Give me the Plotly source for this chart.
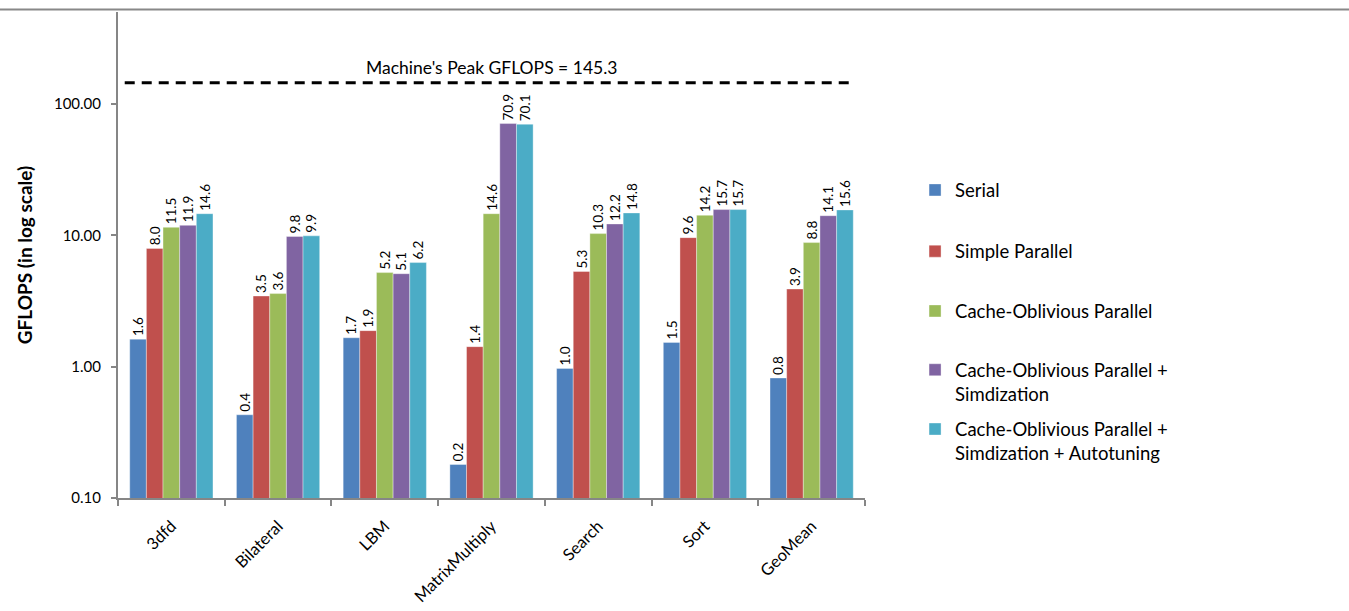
import math
import plotly.graph_objects as go

# Benchmarks and measured throughput (GFLOPS) per optimisation level
benchmarks = ["3dfd", "Bilateral", "LBM", "MatrixMultiply", "Search", "Sort", "GeoMean"]
serial = [1.62, 0.43, 1.66, 0.18, 0.97, 1.53, 0.82]
simple_parallel = [7.95, 3.45, 1.88, 1.42, 5.3, 9.6, 3.9]
cache_oblivious = [11.5, 3.6, 5.2, 14.6, 10.3, 14.2, 8.8]
cache_oblivious_simd = [11.9, 9.8, 5.1, 70.9, 12.2, 15.7, 14.1]
cache_oblivious_simd_tuned = [14.6, 9.9, 6.2, 70.1, 14.8, 15.7, 15.6]
peak_gflops = 145.3

series_names = [
    "Serial",
    "Simple Parallel",
    "Cache-Oblivious Parallel",
    "Cache-Oblivious Parallel +<br>Simdization",
    "Cache-Oblivious Parallel +<br>Simdization + Autotuning",
]
series_values = [serial, simple_parallel, cache_oblivious,
                 cache_oblivious_simd, cache_oblivious_simd_tuned]
colors = ["#4F81BD", "#C0504D", "#9BBB59", "#8064A2", "#4BACC6"]

FONT = "Lato"

fig = go.Figure()
legend_ids = ["legend", "legend2", "legend3", "legend4", "legend5"]
for name, vals, color, lg in zip(series_names, series_values, colors, legend_ids):
    fig.add_trace(go.Bar(
        x=benchmarks, y=vals, name=name,
        marker=dict(color=color, line=dict(color="rgba(255,255,255,0.6)", width=0.6)),
        text=[f"{v:.1f}" for v in vals],
        textposition="outside", textangle=-90, constraintext="none",
        textfont=dict(family=FONT, size=13.5, color="#000000"),
        cliponaxis=False,
        legend=lg,
    ))

# one legend box per series so the entries spread down the right side
legend_y = [0.672, 0.546, 0.423, 0.302, 0.180]
legend_layout = {}
for lg, ly in zip(legend_ids, legend_y):
    legend_layout[lg] = dict(
        x=1.067, y=ly, xanchor="left", yanchor="top",
        font=dict(family=FONT, size=18.5, color="#000000"),
        bgcolor="rgba(0,0,0,0)", valign="top",
        itemclick=False, itemdoubleclick=False,
    )

fig.update_layout(
    width=1349, height=611,
    margin=dict(l=118, r=484, t=12, b=113, autoexpand=False),
    paper_bgcolor="white", plot_bgcolor="white",
    barmode="group", bargap=0.22, bargroupgap=0,
    font=dict(family=FONT, color="#000000"),
    showlegend=True,
    **legend_layout,
)

fig.update_xaxes(
    type="category", automargin=False,
    showgrid=False, showline=True, linecolor="#868686", linewidth=2,
    ticks="outside", tickson="boundaries", ticklen=6, tickcolor="#868686", tickwidth=1.5,
    tickangle=-45, tickfont=dict(family=FONT, size=16.5, color="#000000"),
    ticklabelstandoff=10,
)
fig.update_yaxes(
    type="log", range=[-1, 2.70], automargin=False,
    tickvals=[0.1, 1, 10, 100], ticktext=["0.10", "1.00", "10.00", "100.00"],
    showgrid=False, showline=True, linecolor="#868686", linewidth=2,
    ticks="outside", ticklen=5, tickcolor="#868686", tickwidth=1.5,
    tickfont=dict(family=FONT, size=15, color="#000000"),
    ticklabelstandoff=7,
    title=dict(text="<b>GFLOPS (in log scale)</b>", font=dict(family=FONT, size=19, color="#000000"),
               standoff=16),
    zeroline=False,
)

# machine peak reference line
fig.add_shape(type="line", xref="paper", yref="y",
              x0=0.009, x1=0.987, y0=peak_gflops, y1=peak_gflops,
              line=dict(color="#000000", width=3, dash="10px,7px"))
fig.add_annotation(xref="paper", yref="y", x=0.50, y=math.log10(peak_gflops),
                   text=f"Machine's Peak GFLOPS = {peak_gflops}", showarrow=False,
                   yanchor="bottom", yshift=3,
                   font=dict(family=FONT, size=17.5, color="#000000"))

# thin rule across the top of the page
fig.add_shape(type="line", xref="paper", yref="paper",
              x0=-0.16, x1=1.65, y0=1.005, y1=1.005,
              line=dict(color="#888888", width=2))

fig.write_html("out.html")
